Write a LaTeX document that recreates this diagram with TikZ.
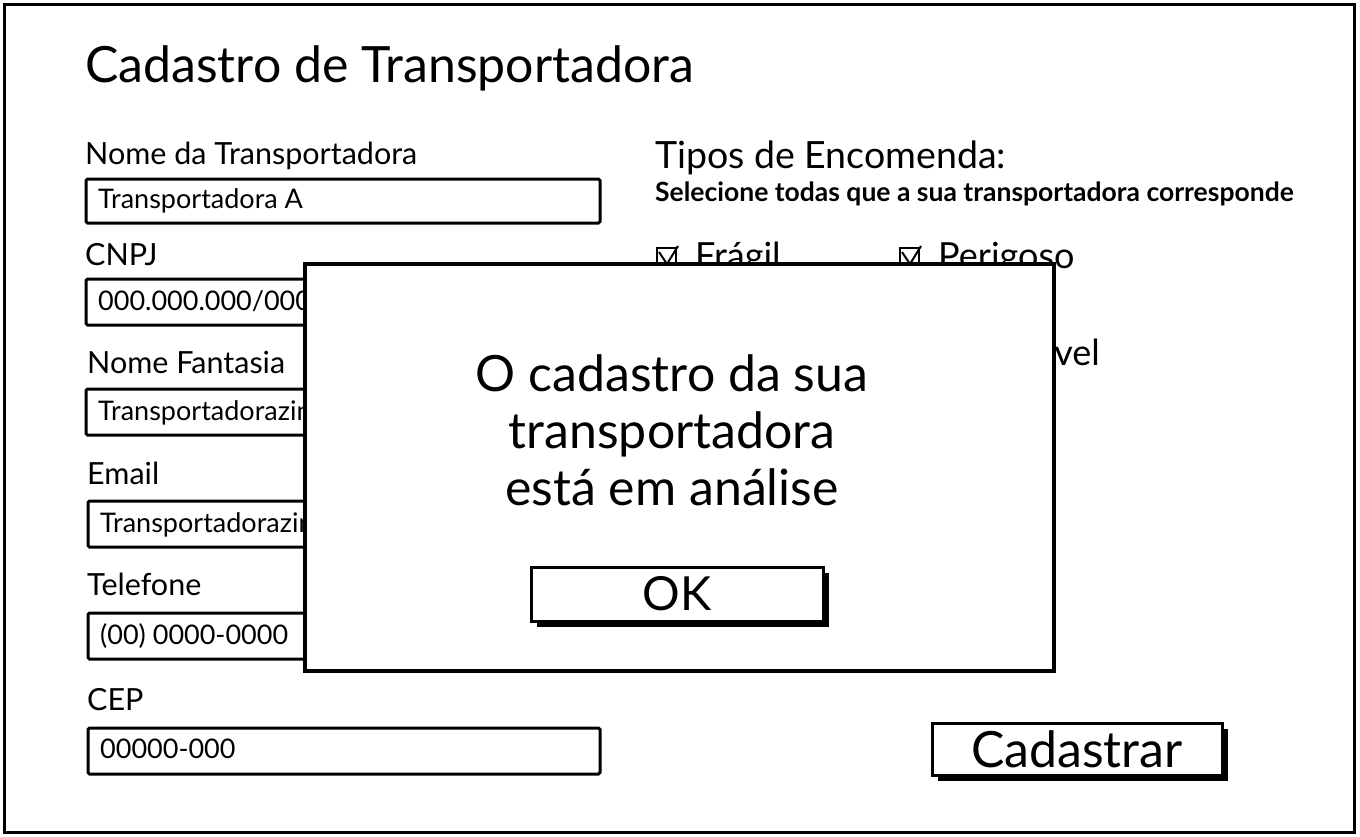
\documentclass[tikz,border=0pt]{standalone}
\usepackage{fontspec}
\setmainfont{Lato}
\begin{document}
\begin{tikzpicture}[x=1pt,y=-1pt,
  frame/.style={draw=black,line width=3pt},
  lbl/.style={anchor=base west,inner sep=0pt,font=\fontsize{30.5}{34}\selectfont},
  fld/.style={draw=black,line width=3pt,fill=white,rounded corners=1.5pt},
  ftxt/.style={anchor=base west,inner sep=0pt,font=\fontsize{27}{30}\selectfont},
  chk/.style={anchor=base west,inner sep=0pt,font=\fontsize{36}{40}\selectfont},
  btn/.style={draw=black,line width=3pt,fill=white},
  shadow/.style={fill=black},
  big/.style={font=\fontsize{50}{57}\selectfont,inner sep=0pt,align=center}]
\useasboundingbox (0,0) rectangle (1360,836);
\fill[white] (0,0) rectangle (1360,836);
\draw[frame] (4,4) rectangle (1354,832);
\node[anchor=base west,inner sep=0pt,font=\fontsize{50}{55}\selectfont] (title) at (85,82) {Cadastro de Transportadora};
% left fields
\node[lbl] (l1) at (85,164) {Nome da Transportadora};
\draw[fld] (86,179) rectangle (600,223);
\node[ftxt] (t1) at (98,208) {Transportadora A};
\node[lbl] (l2) at (85,265) {CNPJ};
\draw[fld] (86,279) rectangle (600,325);
\node[ftxt] (t2) at (98,310) {000.000.000/0000-00};
\node[lbl] (l3) at (87,373) {Nome Fantasia};
\draw[fld] (86,389) rectangle (600,435);
\node[ftxt] (t3) at (98,420) {Transportadorazinha};
\node[lbl] (l4) at (87,484) {Email};
\draw[fld] (88,501) rectangle (600,547);
\node[ftxt] (t4) at (100,532) {Transportadorazinha@email.com};
\node[lbl] (l5) at (87,595) {Telefone};
\draw[fld] (88,613) rectangle (600,659);
\node[ftxt] (t5) at (100,644) {(00) 0000-0000};
\node[lbl] (l6) at (87,710) {CEP};
\draw[fld] (88,728) rectangle (600,774);
\node[ftxt] (t6) at (100,758) {00000-000};
% right
\node[anchor=base west,inner sep=0pt,font=\fontsize{37.5}{42}\selectfont] (tipos) at (655,168) {Tipos de Encomenda:};
\node[anchor=base west,inner sep=0pt,font=\fontsize{26.5}{30}\selectfont\bfseries] (sel) at (655,201) {Selecione todas que a sua transportadora corresponde};
\draw[line width=2pt] (657,248) rectangle (676,266);
\draw[line width=2pt] (659,252) -- (667,264) -- (678,246);
\node[chk] (c1) at (695,268) {Frágil};
\draw[line width=2pt] (900,248) rectangle (919,266);
\draw[line width=2pt] (902,252) -- (910,264) -- (921,246);
\node[chk] (c2) at (938,268) {Perigoso};
\node[chk,anchor=base east] (c3) at (1100,365) {Perecível};
% Cadastrar button
\fill[shadow] (938,729) rectangle (1228,781);
\draw[btn] (932,723) rectangle (1222,775);
\node[big] (cad) at (1077,749) {Cadastrar};
% dialog
\draw[line width=3.5pt,fill=white] (305,264) rectangle (1054,671);
\node[big] (msg) at (672,430) {O cadastro da sua\\transportadora\\está em análise};
\fill[shadow] (537,573) rectangle (829,627);
\draw[btn] (531,567) rectangle (823,621);
\node[big,font=\fontsize{47}{50}\selectfont] (ok) at (677,594) {OK};
\end{tikzpicture}
\end{document}
